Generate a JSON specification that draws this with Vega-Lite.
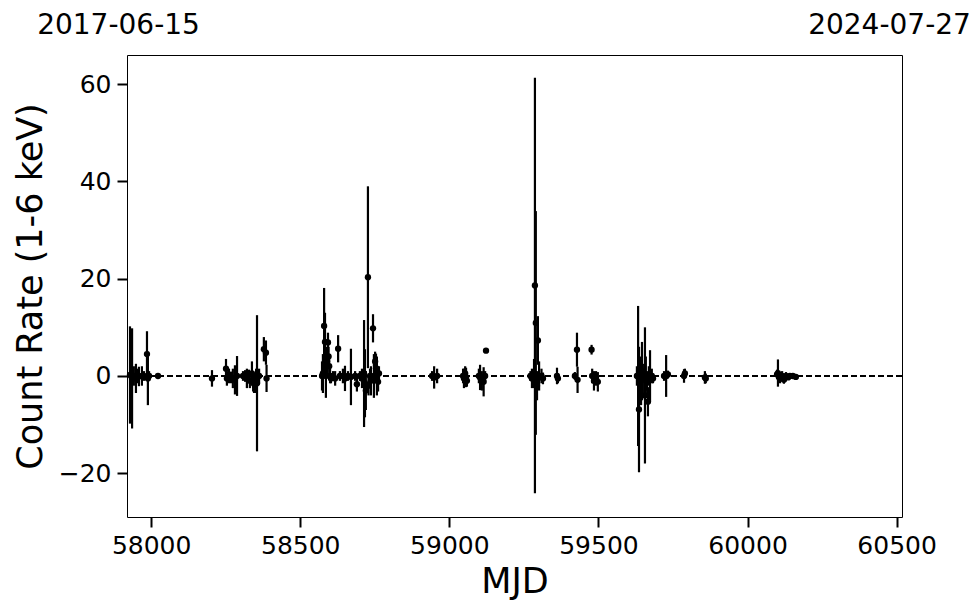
{
  "$schema": "https://vega.github.io/schema/vega-lite/v6.json",
  "width": 775,
  "height": 462,
  "autosize": {"type": "none"},
  "padding": {"left": 127, "top": 55, "right": 78, "bottom": 96},
  "background": "white",
  "config": {
    "view": {"stroke": "black", "strokeWidth": 1},
    "font": "DejaVu Sans",
    "axis": {"labelFont": "DejaVu Sans", "titleFont": "DejaVu Sans", "labelColor": "black", "titleColor": "black", "tickColor": "black", "grid": false, "domain": false}
  },
  "data": {
    "values": [
      {"mjd": 57929, "rate": 0.2, "err": 10},
      {"mjd": 57936, "rate": -0.5, "err": 10.3},
      {"mjd": 57942, "rate": 0, "err": 2},
      {"mjd": 57949, "rate": -0.5, "err": 3},
      {"mjd": 57953, "rate": 0, "err": 1.5},
      {"mjd": 57959, "rate": -0.1, "err": 2},
      {"mjd": 57969, "rate": 0, "err": 2},
      {"mjd": 57976, "rate": 0, "err": 1},
      {"mjd": 57986, "rate": 4.5, "err": 4.7},
      {"mjd": 57989, "rate": -0.5, "err": 5.5},
      {"mjd": 57993, "rate": 0, "err": 1},
      {"mjd": 58023, "rate": 0, "err": 0.3},
      {"mjd": 58204, "rate": -0.5, "err": 1.7},
      {"mjd": 58251, "rate": 1.5, "err": 2},
      {"mjd": 58254, "rate": -0.5, "err": 1.5},
      {"mjd": 58261, "rate": 0, "err": 1.5},
      {"mjd": 58268, "rate": -0.3, "err": 1.2},
      {"mjd": 58274, "rate": -0.5, "err": 2},
      {"mjd": 58281, "rate": -0.8, "err": 3},
      {"mjd": 58288, "rate": 0, "err": 4.1},
      {"mjd": 58308, "rate": 0, "err": 1},
      {"mjd": 58315, "rate": 0, "err": 1.2},
      {"mjd": 58321, "rate": -0.5, "err": 2},
      {"mjd": 58328, "rate": 0.3, "err": 1},
      {"mjd": 58331, "rate": -1, "err": 1.5},
      {"mjd": 58338, "rate": 0.5, "err": 2.5},
      {"mjd": 58342, "rate": -1.2, "err": 2},
      {"mjd": 58345, "rate": -1.5, "err": 2},
      {"mjd": 58348, "rate": -2, "err": 1.5},
      {"mjd": 58352, "rate": -0.5, "err": 2},
      {"mjd": 58355, "rate": -1.5, "err": 14},
      {"mjd": 58362, "rate": 0, "err": 1.5},
      {"mjd": 58378, "rate": 5.5, "err": 2.5},
      {"mjd": 58385, "rate": 4.8, "err": 2.5},
      {"mjd": 58387, "rate": -0.5, "err": 2.8},
      {"mjd": 58573, "rate": 0, "err": 3},
      {"mjd": 58576, "rate": 0.5, "err": 4},
      {"mjd": 58580, "rate": 10.3, "err": 7.8},
      {"mjd": 58583, "rate": 7, "err": 6},
      {"mjd": 58586, "rate": 0, "err": 4.5},
      {"mjd": 58590, "rate": 3, "err": 3},
      {"mjd": 58593, "rate": 6.9, "err": 2},
      {"mjd": 58595, "rate": 4, "err": 2},
      {"mjd": 58597, "rate": 2, "err": 2},
      {"mjd": 58600, "rate": 0, "err": 1.5},
      {"mjd": 58603, "rate": -0.5, "err": 1},
      {"mjd": 58610, "rate": 0, "err": 1},
      {"mjd": 58617, "rate": -0.5, "err": 1.5},
      {"mjd": 58627, "rate": 5.6, "err": 2.8},
      {"mjd": 58633, "rate": 0, "err": 1},
      {"mjd": 58643, "rate": 0, "err": 1.5},
      {"mjd": 58650, "rate": -0.5, "err": 2.6},
      {"mjd": 58660, "rate": 0, "err": 1},
      {"mjd": 58670, "rate": -0.2, "err": 5.8},
      {"mjd": 58684, "rate": 0, "err": 1},
      {"mjd": 58690, "rate": -1.7, "err": 1.5},
      {"mjd": 58700, "rate": 0, "err": 1},
      {"mjd": 58707, "rate": -0.5, "err": 2},
      {"mjd": 58714, "rate": 0.5, "err": 11},
      {"mjd": 58717, "rate": -1.5, "err": 7},
      {"mjd": 58720, "rate": -3, "err": 4},
      {"mjd": 58727, "rate": 20.3, "err": 18.7},
      {"mjd": 58729, "rate": -2, "err": 2},
      {"mjd": 58734, "rate": 0, "err": 1.5},
      {"mjd": 58737, "rate": -1, "err": 3},
      {"mjd": 58744, "rate": 9.8, "err": 2.9},
      {"mjd": 58747, "rate": 0, "err": 4.5},
      {"mjd": 58751, "rate": 3, "err": 2},
      {"mjd": 58754, "rate": 1.6, "err": 3},
      {"mjd": 58757, "rate": 0, "err": 4},
      {"mjd": 58761, "rate": -1.2, "err": 2},
      {"mjd": 58764, "rate": 0.5, "err": 1.5},
      {"mjd": 58942, "rate": 0, "err": 1},
      {"mjd": 58949, "rate": -0.3, "err": 2.3},
      {"mjd": 58959, "rate": 0, "err": 1.5},
      {"mjd": 59046, "rate": 0, "err": 1.5},
      {"mjd": 59049, "rate": -0.5, "err": 2},
      {"mjd": 59053, "rate": 0.5, "err": 1.5},
      {"mjd": 59056, "rate": -0.3, "err": 2},
      {"mjd": 59059, "rate": -1, "err": 1.2},
      {"mjd": 59099, "rate": 0, "err": 1.5},
      {"mjd": 59103, "rate": -0.3, "err": 2.6},
      {"mjd": 59109, "rate": -1, "err": 2},
      {"mjd": 59115, "rate": -1.2, "err": 3},
      {"mjd": 59120, "rate": 0, "err": 1},
      {"mjd": 59123, "rate": 5.2, "err": 0.4},
      {"mjd": 59272, "rate": 0, "err": 1},
      {"mjd": 59277, "rate": -0.5, "err": 2},
      {"mjd": 59284, "rate": 0.5, "err": 3},
      {"mjd": 59287, "rate": 18.6, "err": 42.7},
      {"mjd": 59290, "rate": 10.9, "err": 23},
      {"mjd": 59294, "rate": -2, "err": 3},
      {"mjd": 59297, "rate": 7.3, "err": 5},
      {"mjd": 59301, "rate": 0, "err": 3},
      {"mjd": 59309, "rate": 0, "err": 1.5},
      {"mjd": 59314, "rate": -0.5, "err": 1.2},
      {"mjd": 59361, "rate": 0, "err": 1.7},
      {"mjd": 59364, "rate": -0.5, "err": 1},
      {"mjd": 59421, "rate": 0, "err": 0.8},
      {"mjd": 59428, "rate": 5.4, "err": 3.5},
      {"mjd": 59430, "rate": -0.8, "err": 2.7},
      {"mjd": 59477, "rate": 5.4, "err": 1},
      {"mjd": 59479, "rate": 0, "err": 1.5},
      {"mjd": 59485, "rate": -1, "err": 2},
      {"mjd": 59492, "rate": -0.5, "err": 1.5},
      {"mjd": 59498, "rate": -1.2, "err": 2},
      {"mjd": 59629, "rate": 0, "err": 2},
      {"mjd": 59633, "rate": 0, "err": 14.4},
      {"mjd": 59636, "rate": -6.9, "err": 12.9},
      {"mjd": 59639, "rate": 0.5, "err": 3},
      {"mjd": 59643, "rate": -1, "err": 5},
      {"mjd": 59646, "rate": 1, "err": 6},
      {"mjd": 59649, "rate": -0.5, "err": 3},
      {"mjd": 59656, "rate": -4, "err": 14},
      {"mjd": 59659, "rate": 0, "err": 4},
      {"mjd": 59663, "rate": -1, "err": 2},
      {"mjd": 59666, "rate": -5.3, "err": 3},
      {"mjd": 59669, "rate": 0, "err": 2},
      {"mjd": 59673, "rate": 0, "err": 5.3},
      {"mjd": 59679, "rate": 0, "err": 1.5},
      {"mjd": 59683, "rate": -0.5, "err": 1},
      {"mjd": 59720, "rate": 0, "err": 1},
      {"mjd": 59727, "rate": 0, "err": 4.3},
      {"mjd": 59733, "rate": 0.3, "err": 0.8},
      {"mjd": 59787, "rate": 0, "err": 1.4},
      {"mjd": 59790, "rate": 0.5, "err": 1},
      {"mjd": 59857, "rate": -0.3, "err": 1.3},
      {"mjd": 59860, "rate": -0.5, "err": 1},
      {"mjd": 60099, "rate": 0.3, "err": 1},
      {"mjd": 60102, "rate": 0.6, "err": 2.8},
      {"mjd": 60109, "rate": -0.5, "err": 1},
      {"mjd": 60116, "rate": 0, "err": 1},
      {"mjd": 60122, "rate": -0.8, "err": 0.8},
      {"mjd": 60129, "rate": 0, "err": 0.8},
      {"mjd": 60136, "rate": -0.3, "err": 0.5},
      {"mjd": 60142, "rate": 0, "err": 0.4},
      {"mjd": 60152, "rate": 0, "err": 0.3},
      {"mjd": 60162, "rate": -0.2, "err": 0.3}
    ]
  },
  "layer": [
    {
      "mark": {"type": "rule", "color": "black", "strokeWidth": 1.5, "strokeDash": [6, 3]},
      "encoding": {
        "y": {"datum": 0, "type": "quantitative",
              "scale": {"domain": [-29, 66], "nice": false, "zero": false},
              "axis": {"title": "Count Rate (1-6 keV)", "values": [-20, 0, 20, 40, 60], "labelFontSize": 25, "tickSize": 10, "tickWidth": 2, "labelPadding": 6,
                       "titleFontSize": 35, "titleFontWeight": "normal", "titlePadding": 10}}
      }
    },
    {
      "mark": {"type": "errorbar", "color": "black", "thickness": 2.2},
      "encoding": {
        "x": {
          "field": "mjd", "type": "quantitative",
          "scale": {"domain": [57919, 60518], "nice": false, "zero": false},
          "axis": {"orient": "bottom", "title": "MJD", "values": [58000, 58500, 59000, 59500, 60000, 60500], "format": "d",
                   "labelFontSize": 25, "tickSize": 10, "tickWidth": 2, "labelPadding": 6, "labelFlush": false,
                   "titleFontSize": 35, "titleFontWeight": "normal", "titlePadding": 6}
        },
        "y": {"field": "rate", "type": "quantitative", "scale": {"domain": [-29, 66], "nice": false, "zero": false},
              "axis": {"title": "Count Rate (1-6 keV)", "values": [-20, 0, 20, 40, 60], "labelFontSize": 25, "tickSize": 10, "tickWidth": 2, "labelPadding": 6,
                       "titleFontSize": 35, "titleFontWeight": "normal", "titlePadding": 10}},
        "yError": {"field": "err"}
      }
    },
    {
      "mark": {"type": "circle", "color": "black", "size": 40, "opacity": 1},
      "encoding": {
        "x": {
          "field": "mjd", "type": "quantitative",
          "axis": {"orient": "top", "title": null, "values": [57919, 60518], "ticks": false, "labelFlush": false, "labelOverlap": false, "labelBound": false,
                   "labelExpr": "datum.value < 59000 ? '2017-06-15' : '2024-07-27'", "labelFontSize": 28, "labelPadding": 22, "labelBaseline": "alphabetic",
                   "labelOffset": {"condition": {"test": "datum.value < 59000", "value": -9}, "value": -13}}
        },
        "y": {
          "field": "rate", "type": "quantitative",
          "axis": {"title": "Count Rate (1-6 keV)", "values": [-20, 0, 20, 40, 60], "labelFontSize": 25, "tickSize": 10, "tickWidth": 2, "labelPadding": 6,
                   "titleFontSize": 35, "titleFontWeight": "normal", "titlePadding": 10}
        }
      }
    }
  ]
}
